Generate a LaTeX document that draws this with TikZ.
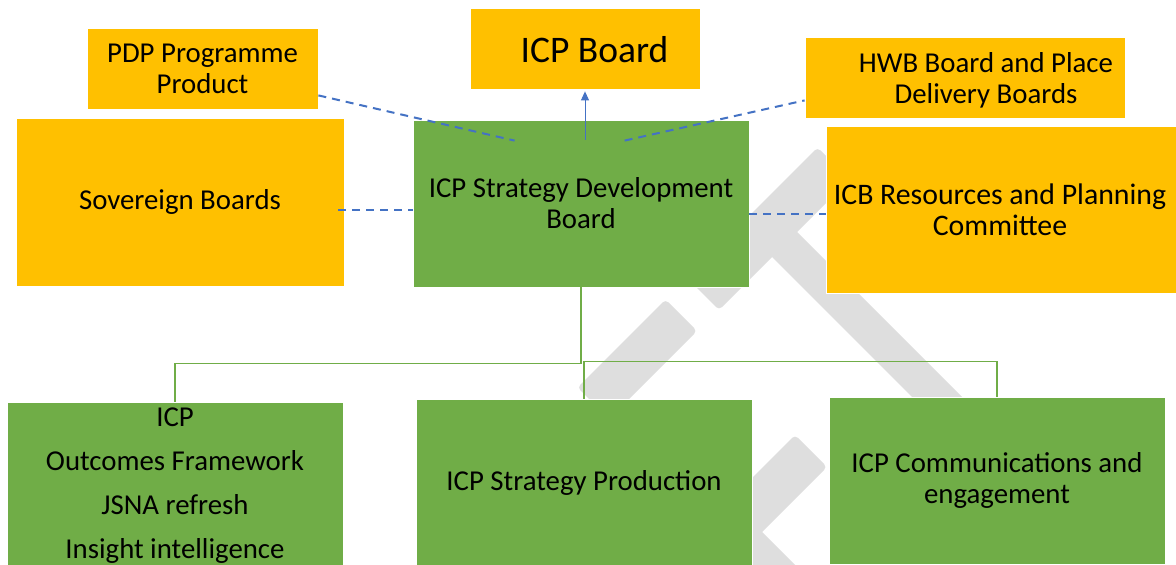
\documentclass[tikz,border=0pt]{standalone}
\usepackage{fontspec}
\setmainfont{Carlito}
\usetikzlibrary{calc,arrows.meta}
\definecolor{amber}{HTML}{FFC000}
\definecolor{leaf}{HTML}{70AD47}
\definecolor{linkblue}{HTML}{4472C4}
\definecolor{wmgray}{HTML}{DEDEDE}
\begin{document}
\begin{tikzpicture}[x=1pt,y=-1pt,
  box/.style={rectangle, draw=white, line width=0.8pt, inner sep=0pt, align=center,
              font=\fontsize{28.8}{31}\selectfont},
  obox/.style={box, fill=amber},
  gbox/.style={box, fill=leaf},
  txt/.style={inner sep=0pt, align=center, font=\fontsize{28.8}{31}\selectfont},
  linkdash/.style={draw=linkblue, line width=2pt, dash pattern=on 8pt off 6pt},
  tree/.style={draw=leaf, line width=1.3pt},
  wmark/.style={fill=wmgray, rounded corners=4pt}
]
\clip (0,0) rectangle (1176,565);
\fill[white] (0,0) rectangle (1176,565);

% watermark
\fill[wmark] (817.5,147.5) -- (849.5,179.5) -- (719,310) -- (687,278) -- cycle;
\fill[wmark] (757.5,242.5) -- (782.5,217.5) -- (982.5,417.5) -- (957.5,442.5) -- cycle;
\fill[wmark] (665.5,299.5) -- (697,331) -- (609,419) -- (577.5,387.5) -- cycle;
\fill[wmark] (795,435) -- (827,467) -- (697,597) -- (665,565) -- cycle;
\fill[wmark] (720,540) -- (745,515) -- (865,635) -- (840,660) -- cycle;

% boxes
\node[obox, minimum width=231pt, minimum height=81pt] (pdp) at (202.5,68.5) {PDP Programme\\Product};
\node[obox, minimum width=230pt, minimum height=81pt] (icpb) at (585,48.5) {};
\node[txt, font=\fontsize{37.5}{40}\selectfont] (icpbtxt) at (594.5,50) {ICP Board};
\node[obox, minimum width=320pt, minimum height=81pt] (hwb) at (965,77.5) {};
\node[txt] (hwbtxt) at (986,80) {HWB Board and Place\\Delivery Boards};
\node[obox, minimum width=328pt, minimum height=168pt] (sov) at (180,202) {Sovereign Boards};
\node[gbox, minimum width=336pt, minimum height=167pt] (sdb) at (581,203.5) {ICP Strategy Development\\Board};
\node[obox, minimum width=360pt, minimum height=167pt] (icb) at (1006,209.5) {};
\node[txt, font=\fontsize{29.8}{31}\selectfont] (icbtxt) at (1000,209.5) {ICB Resources and Planning\\Committee};
\node[gbox, minimum width=336pt, minimum height=167pt, font=\fontsize{28.8}{44}\selectfont] (out) at (175,485.5)
  {ICP\\Outcomes Framework\\JSNA refresh\\Insight intelligence};
\node[gbox, minimum width=336pt, minimum height=167pt] (prod) at (584,482.5) {ICP Strategy Production};
\node[gbox, minimum width=336pt, minimum height=167pt] (comm) at (997,480.5) {ICP Communications and\\engagement};

% tree connectors
\draw[tree] (sdb.south) -- ++(0,76) -| (out.north);
\draw[tree] ($(sdb.south)+(2,74)$) -| (comm.north);
\draw[tree] ($(sdb.south)+(3,74)$) -- (prod.north);

% dashed links
\draw[linkdash] ($(pdp.south east)+(0,-14)$) -- ($(sdb.north west)+(102,21)$);
\draw[linkdash] ($(sdb.north west)+(212,21)$) -- ($(hwb.south west)+(0,-18)$);
\draw[linkdash] ($(sov.east)+(-6,8)$) -- ($(sdb.west)+(0,6.5)$);
\draw[linkdash] ($(sdb.east)+(0,10.5)$) -- ($(icb.west)+(0,4.5)$);

% arrow to ICP Board
\draw[draw=linkblue, line width=0.9pt, -{Triangle[length=9pt,width=8pt]}, shorten >=2pt]
  ($(sdb.north)+(4,20)$) -- (icpb.south);
\end{tikzpicture}
\end{document}
